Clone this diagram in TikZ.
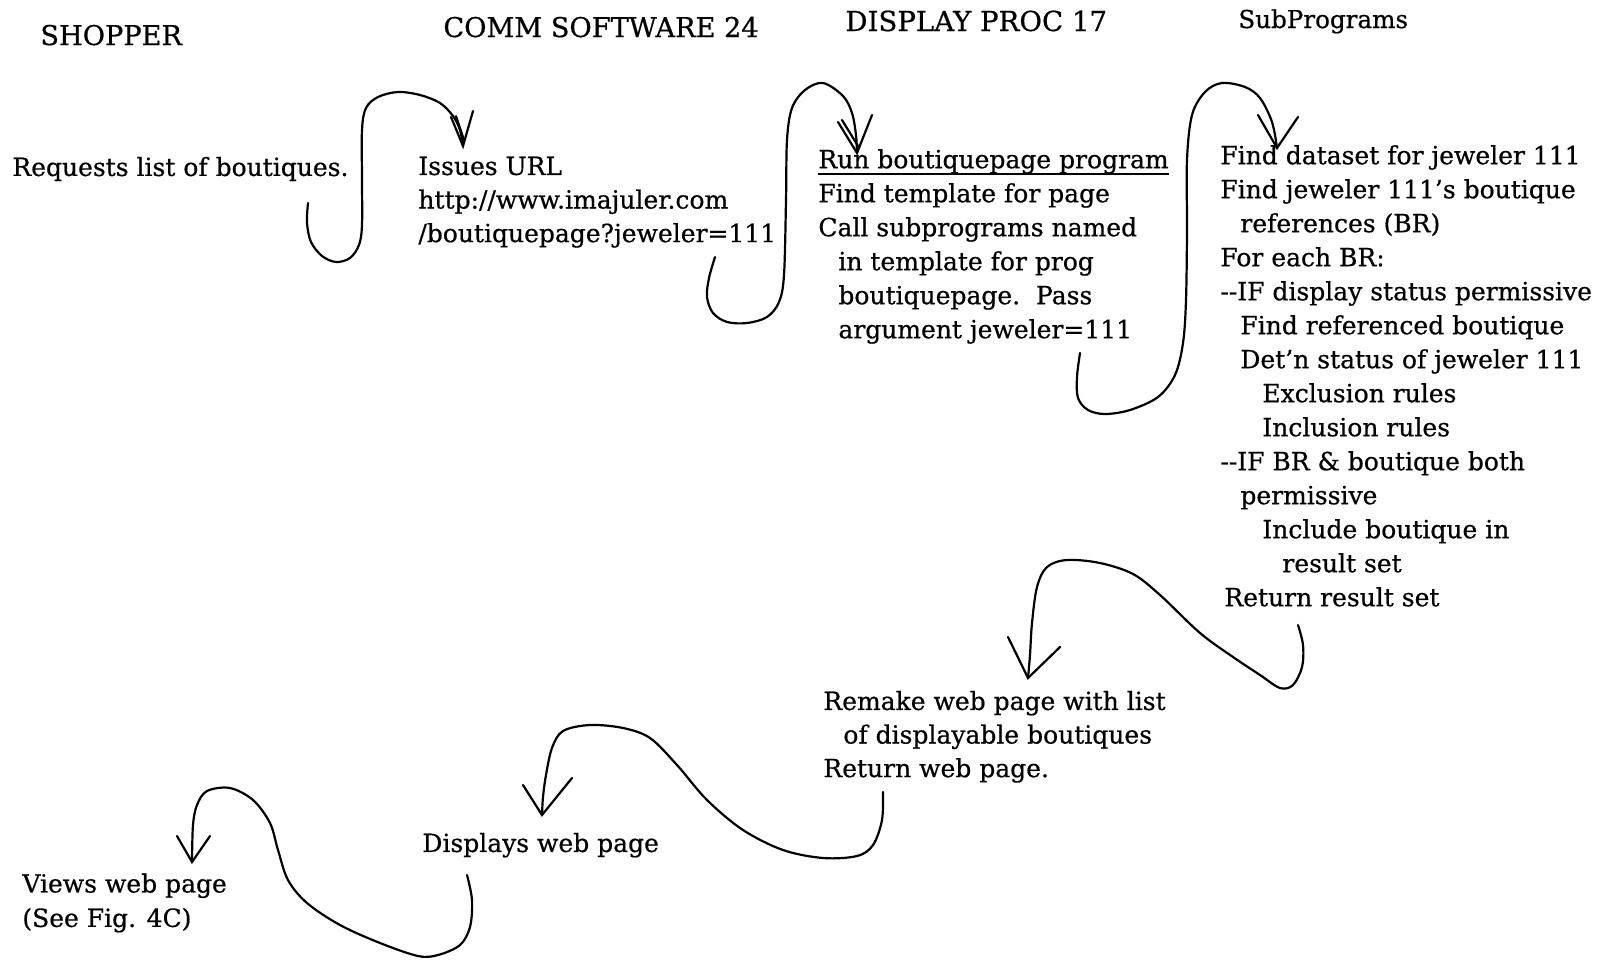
\documentclass[tikz,border=0pt]{standalone}
\usepackage{fontspec}
\usetikzlibrary{calc}
\setmainfont[FakeBold=0.6]{DejaVu Serif}
\newcommand{\myul}[1]{\setbox0\hbox{#1}\rlap{\rule[-3.2pt]{\wd0}{0.9pt}}\box0}
\newcommand{\ind}[1]{\hspace*{#1pt}}
\begin{document}
\begin{tikzpicture}[x=0.5pt,y=-0.5pt,
  txt/.style={anchor=north west,inner sep=0pt,align=left,font=\fontsize{12.5}{16.8}\selectfont},
  hdr/.style={anchor=base west,inner sep=0pt,font=\fontsize{13.6}{15}\selectfont},
  curve/.style={line width=1.1pt,line cap=round,line join=round},
  barb/.style={line width=1.1pt,line cap=round,line join=miter}]
\useasboundingbox[fill=white] (0,0) rectangle (1600,959);

% headers
\node[hdr] (hshop) at (40,45) {SHOPPER};
\node[hdr] (hcomm) at (443,37) {COMM SOFTWARE 24};
\node[hdr,font=\fontsize{13.8}{15}\selectfont] (hdisp) at (845,31) {DISPLAY PROC 17};
\node[hdr,font=\fontsize{12.3}{15}\selectfont] (hsub) at (1238,28) {SubPrograms};

% text blocks
\node[txt] (req) at (12,152) {\strut Requests list of boutiques.};
\node[txt] (url) at (418,151) {\strut Issues URL\\http://www.imajuler.com\\/boutiquepage?jeweler=111};
\node[txt,font=\fontsize{12.5}{17}\selectfont] (run) at (818,144) {\strut\myul{Run boutiquepage program}\\Find template for page\\Call subprograms named\\\ind{10}in template for prog\\\ind{10}boutiquepage.\ \ Pass\\\ind{10}argument jeweler=111};
\node[txt,font=\fontsize{12.5}{17}\selectfont] (sub) at (1220,140) {\strut Find dataset for jeweler 111\\Find jeweler 111’s boutique\\\ind{10}references (BR)\\For each BR:\\{-}{-}IF display status permissive\\\ind{10}Find referenced boutique\\\ind{10}Det’n status of jeweler 111\\\ind{21}Exclusion rules\\\ind{21}Inclusion rules\\{-}{-}IF BR \& boutique both\\\ind{10}permissive\\\ind{21}Include boutique in\\\ind{31}result set\\\ind{2}Return result set};
\node[txt] (remake) at (823,686) {\strut Remake web page with list\\\ind{10}of displayable boutiques\\Return web page.};
\node[txt] (disp) at (422,828) {\strut Displays web page};
\node[txt,font=\fontsize{12.5}{17.2}\selectfont] (views) at (22,868) {\strut Views web page\\(See Fig. 4C)};

% curve 1: shopper -> comm
\coordinate (c1s) at (308,203); \coordinate (c1t) at (463,146);
\draw[curve] plot[smooth,tension=0.55] coordinates {(c1s) (307,223) (311,242) (322,256) (336,262) (350,258) (359,245) (362,225) (362,180) (362,130) (366,108) (378,97) (398,92) (420,95) (440,103) (453,116) (460,130) (c1t)};
\draw[barb] (451,117) -- (c1t) -- (473,111);
\draw[barb] (456,116) -- ($(c1t)+(1,-6)$);

% curve 2: comm -> display
\coordinate (c2s) at (715,257); \coordinate (c2t) at (857,153);
\draw[curve] plot[smooth,tension=0.55] coordinates {(c2s) (709,278) (707,297) (713,313) (727,322) (747,323) (767,317) (779,302) (784,275) (786,200) (787,140) (792,108) (805,90) (823,83) (843,96) (852,113) (856,135) (c2t)};
\draw[barb] (838,122) -- (c2t) -- (872,115);
\draw[barb] (842,120) -- ($(c2t)+(1,-7)$);

% curve 3: display -> subprograms
\coordinate (c3s) at (1080,353); \coordinate (c3t) at (1277,148);
\draw[curve] plot[smooth,tension=0.55] coordinates {(c3s) (1077,377) (1078,398) (1088,410) (1105,414) (1130,410) (1158,397) (1175,375) (1183,343) (1186,300) (1187,230) (1187,160) (1192,115) (1205,92) (1222,83) (1245,87) (1260,98) (1272,122) (c3t)};
\draw[barb] (1258,115) -- (c3t) -- (1298,117);

% curve 4: subprograms -> display
\coordinate (c4s) at (1298,625); \coordinate (c4t) at (1028,678);
\draw[curve] plot[smooth,tension=0.55] coordinates {(c4s) (1303,645) (1302,667) (1293,685) (1280,688) (1260,675) (1233,657) (1200,633) (1160,595) (1133,574) (1100,563) (1067,560) (1047,567) (1037,587) (1032,623) (1030,655) (c4t)};
\draw[barb] (1008,637) -- (c4t) -- (1060,647);

% curve 5: display -> comm
\coordinate (c5s) at (883,792); \coordinate (c5t) at (542,815);
\draw[curve] plot[smooth,tension=0.55] coordinates {(c5s) (882,820) (873,845) (857,856) (823,858) (783,850) (743,830) (707,800) (677,765) (650,738) (623,728) (590,725) (563,731) (552,748) (546,775) (543,797) (c5t)};
\draw[barb] (523,785) -- (c5t) -- (572,778);

% curve 6: comm -> shopper
\coordinate (c6s) at (467,875); \coordinate (c6t) at (192,862);
\draw[curve] plot[smooth,tension=0.55] coordinates {(c6s) (472,900) (470,927) (460,945) (438,955) (418,956) (380,943) (340,925) (307,903) (288,880) (278,850) (270,823) (253,800) (230,788) (207,791) (197,805) (193,825) (c6t)};
\draw[barb] (177,836) -- (c6t) -- (210,836);
\end{tikzpicture}
\end{document}
